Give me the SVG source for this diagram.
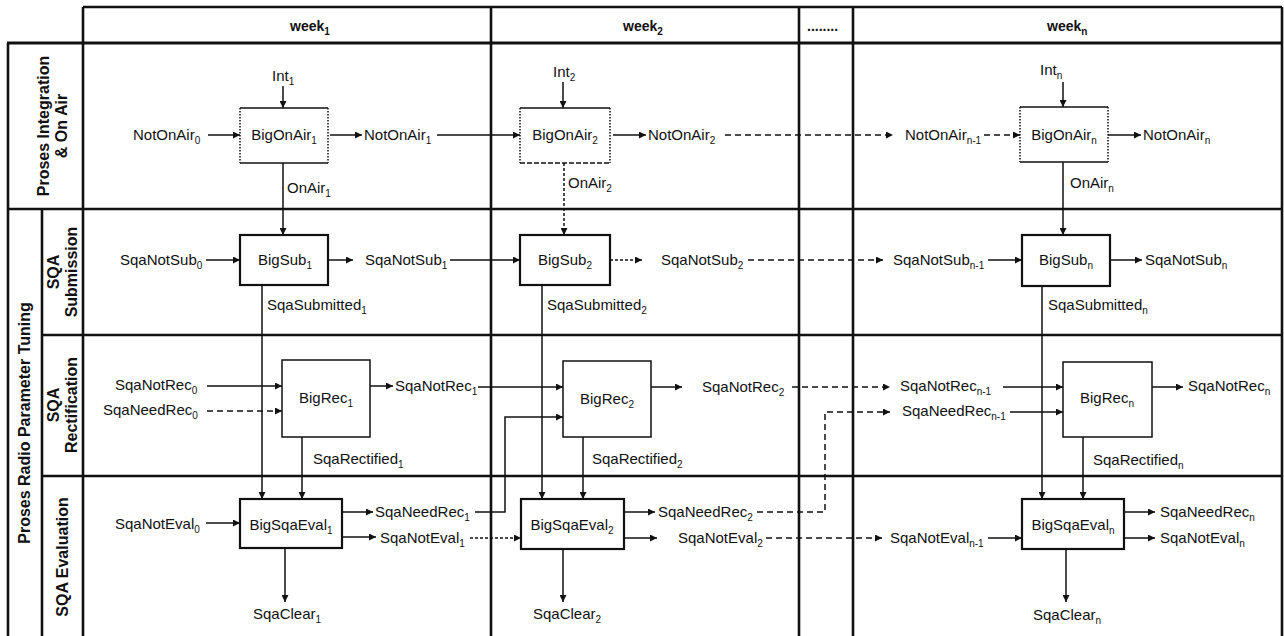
<svg xmlns="http://www.w3.org/2000/svg" width="1284" height="636" viewBox="0 0 1284 636">
<defs>
<marker id="ah" viewBox="0 0 10 10" refX="10" refY="5" markerWidth="9" markerHeight="7" markerUnits="userSpaceOnUse" orient="auto">
<path d="M0,0 L10,5 L0,10 z" fill="#111"/>
</marker>
</defs>
<style>
text{font-family:"Liberation Sans",Arial,sans-serif;font-size:15px;fill:#111}
.sub{font-size:10px}
.hd{font-weight:bold;font-size:14px}
.lb{font-weight:bold;font-size:16px}
.grid line{stroke:#111;stroke-width:2.6}
.c{fill:none;stroke:#111;stroke-width:1.5;marker-end:url(#ah)}
.d{stroke-dasharray:6,4}
.dt{stroke-dasharray:3,2}
.bx{fill:#fff;stroke:#111;stroke-width:1.5}
.bk{fill:#fff;stroke:#111;stroke-width:2.2}
.dside{stroke:#111;stroke-width:1.5;stroke-dasharray:1.5,1.5}
.ctr{text-anchor:middle}
</style>
<rect width="1284" height="636" fill="#fff"/>
<g id="grid" class="grid">
<line x1="83" y1="7" x2="1282" y2="7"/>
<line x1="7" y1="43" x2="1282" y2="43" style="stroke-width:3.2"/>
<line x1="8" y1="43" x2="8" y2="636"/>
<line x1="42" y1="209" x2="42" y2="636"/>
<line x1="83" y1="7" x2="83" y2="636"/>
<line x1="491" y1="7" x2="491" y2="636"/>
<line x1="799" y1="7" x2="799" y2="636"/>
<line x1="853" y1="7" x2="853" y2="636"/>
<line x1="1282" y1="7" x2="1282" y2="636"/>
<line x1="8" y1="209" x2="1282" y2="209"/>
<line x1="42" y1="335" x2="1282" y2="335"/>
<line x1="42" y1="476" x2="1282" y2="476"/>
</g>
<g id="headers">
<text class="hd" x="290" y="31">week<tspan class="sub" dy="4">1</tspan></text>
<text class="hd" x="623" y="31">week<tspan class="sub" dy="4">2</tspan></text>
<text class="hd" x="807" y="31">........</text>
<text class="hd" x="1047" y="31">week<tspan class="sub" dy="4">n</tspan></text>
<text class="lb ctr" transform="translate(49,126) rotate(-90)">Proses Integration</text>
<text class="lb ctr" transform="translate(67,126) rotate(-90)">&amp; On Air</text>
<text class="lb ctr" transform="translate(30,423) rotate(-90)">Proses Radio Parameter Tuning</text>
<text class="lb ctr" transform="translate(59,272) rotate(-90)">SQA</text>
<text class="lb ctr" transform="translate(77,272) rotate(-90)">Submission</text>
<text class="lb ctr" transform="translate(59,405) rotate(-90)">SQA</text>
<text class="lb ctr" transform="translate(77,405) rotate(-90)">Rectification</text>
<text class="lb ctr" transform="translate(68,557) rotate(-90)">SQA Evaluation</text>
</g>
<g id="connectors">
<path class="c" d="M283,86 V108"/>
<path class="c" d="M208,135 H240"/>
<path class="c" d="M330,135 H362"/>
<path class="c" d="M283,163 V235"/>
<path class="c" d="M563,82 V108"/>
<path class="c" d="M437,135 H520"/>
<path class="c" d="M613,135 H646"/>
<path class="c dt" d="M564,163 V235"/>
<path class="c d" d="M725,135 H893"/>
<path class="c d" d="M984,135 H1020"/>
<path class="c" d="M1063,82 V107"/>
<path class="c" d="M1108,135 H1141"/>
<path class="c" d="M1063,162 V235"/>
<path class="c" d="M206,260 H240"/>
<path class="c" d="M328,260 H353"/>
<path class="c" d="M450,260 H520"/>
<path class="c dt" d="M610,260 H642"/>
<path class="c d" d="M748,260 H883"/>
<path class="c" d="M988,260 H1022"/>
<path class="c" d="M1110,260 H1142"/>
<path class="c" d="M262,285 V499"/>
<path class="c" d="M542,285 V499"/>
<path class="c" d="M1042,286 V499"/>
<path class="c" d="M207,386 H282"/>
<path class="c d" d="M207,411 H282"/>
<path class="c" d="M370,386 H393"/>
<path class="c" d="M478,387 H563"/>
<path class="c" d="M475,512 H505 V417 H563"/>
<path class="c" d="M651,387 H682"/>
<path class="c d" d="M792,387 H890"/>
<path class="c d" d="M757,512 H825 V412 H890"/>
<path class="c" d="M1003,387 H1063"/>
<path class="c" d="M1010,412 H1063"/>
<path class="c" d="M1152,387 H1183"/>
<path class="c" d="M302,437 V499"/>
<path class="c" d="M583,437 V499"/>
<path class="c" d="M1083,437 V499"/>
<path class="c" d="M206,523 H240"/>
<path class="c" d="M342,512 H373"/>
<path class="c" d="M342,537 H376"/>
<path class="c dt" d="M470,538 H521"/>
<path class="c" d="M624,512 H655"/>
<path class="c" d="M624,538 H657"/>
<path class="c d" d="M766,538 H882"/>
<path class="c" d="M988,538 H1022"/>
<path class="c" d="M1124,512 H1155"/>
<path class="c" d="M1124,538 H1155"/>
<path class="c" d="M285,548 V602"/>
<path class="c" d="M563,549 V602"/>
<path class="c" d="M1066,549 V602"/>
</g>
<g id="BigOnAir1">
<rect x="240" y="108" width="88" height="55" fill="#fff"/>
<line x1="240" y1="108" x2="328" y2="108" stroke="#111" stroke-width="1.3"/>
<line x1="240" y1="163" x2="328" y2="163" stroke="#111" stroke-width="1.3"/>
<line class="dside" x1="240" y1="108" x2="240" y2="163"/>
<line class="dside" x1="328" y1="108" x2="328" y2="163"/>
<text class="ctr" x="284" y="140">BigOnAir<tspan class="sub" dy="4">1</tspan></text>
</g>
<g id="BigOnAir2">
<rect x="520" y="108" width="90" height="55" fill="#fff"/>
<line x1="520" y1="108" x2="610" y2="108" stroke="#111" stroke-width="1.3"/>
<line x1="520" y1="163" x2="610" y2="163" stroke="#111" stroke-width="1.3" stroke-dasharray="5,2"/>
<line class="dside" x1="520" y1="108" x2="520" y2="163"/>
<line class="dside" x1="610" y1="108" x2="610" y2="163"/>
<text class="ctr" x="565" y="140">BigOnAir<tspan class="sub" dy="4">2</tspan></text>
</g>
<g id="BigOnAirn">
<rect x="1020" y="107" width="88" height="55" fill="#fff"/>
<line x1="1020" y1="107" x2="1108" y2="107" stroke="#111" stroke-width="1.3"/>
<line x1="1020" y1="162" x2="1108" y2="162" stroke="#111" stroke-width="1.3"/>
<line class="dside" x1="1020" y1="107" x2="1020" y2="162"/>
<line class="dside" x1="1108" y1="107" x2="1108" y2="162"/>
<text class="ctr" x="1064" y="140">BigOnAir<tspan class="sub" dy="4">n</tspan></text>
</g>
<g id="BigSub1"><rect class="bk" x="240" y="235" width="88" height="50"/><text class="ctr" x="285" y="265">BigSub<tspan class="sub" dy="4">1</tspan></text></g>
<g id="BigSub2"><rect class="bk" x="520" y="235" width="90" height="50"/><text class="ctr" x="565" y="265">BigSub<tspan class="sub" dy="4">2</tspan></text></g>
<g id="BigSubn"><rect class="bk" x="1022" y="235" width="88" height="51"/><text class="ctr" x="1066" y="265">BigSub<tspan class="sub" dy="4">n</tspan></text></g>
<g id="BigRec1"><rect class="bx" x="282" y="360" width="88" height="77"/><text class="ctr" x="326" y="403">BigRec<tspan class="sub" dy="4">1</tspan></text></g>
<g id="BigRec2"><rect class="bx" x="563" y="361" width="88" height="76"/><text class="ctr" x="607" y="404">BigRec<tspan class="sub" dy="4">2</tspan></text></g>
<g id="BigRecn"><rect class="bx" x="1063" y="362" width="89" height="75"/><text class="ctr" x="1107" y="403">BigRec<tspan class="sub" dy="4">n</tspan></text></g>
<g id="BigSqaEval1"><rect class="bk" x="240" y="499" width="102" height="49"/><text class="ctr" x="291" y="530">BigSqaEval<tspan class="sub" dy="4">1</tspan></text></g>
<g id="BigSqaEval2"><rect class="bk" x="521" y="499" width="103" height="50"/><text class="ctr" x="572" y="530">BigSqaEval<tspan class="sub" dy="4">2</tspan></text></g>
<g id="BigSqaEvaln"><rect class="bk" x="1022" y="499" width="102" height="50"/><text class="ctr" x="1073" y="530">BigSqaEval<tspan class="sub" dy="4">n</tspan></text></g>
<g id="labels">
<text x="272" y="81">Int<tspan class="sub" dy="4">1</tspan></text>
<text x="553" y="77">Int<tspan class="sub" dy="4">2</tspan></text>
<text x="1040" y="75">Int<tspan class="sub" dy="4">n</tspan></text>
<text x="133" y="140">NotOnAir<tspan class="sub" dy="4">0</tspan></text>
<text x="364" y="140">NotOnAir<tspan class="sub" dy="4">1</tspan></text>
<text x="648" y="140">NotOnAir<tspan class="sub" dy="4">2</tspan></text>
<text x="905" y="140">NotOnAir<tspan class="sub" dy="4">n-1</tspan></text>
<text x="1143" y="140">NotOnAir<tspan class="sub" dy="4">n</tspan></text>
<text x="287" y="193">OnAir<tspan class="sub" dy="4">1</tspan></text>
<text x="568" y="188">OnAir<tspan class="sub" dy="4">2</tspan></text>
<text x="1070" y="188">OnAir<tspan class="sub" dy="4">n</tspan></text>
<text x="120" y="265">SqaNotSub<tspan class="sub" dy="4">0</tspan></text>
<text x="365" y="265">SqaNotSub<tspan class="sub" dy="4">1</tspan></text>
<text x="661" y="265">SqaNotSub<tspan class="sub" dy="4">2</tspan></text>
<text x="893" y="265">SqaNotSub<tspan class="sub" dy="4">n-1</tspan></text>
<text x="1145" y="265">SqaNotSub<tspan class="sub" dy="4">n</tspan></text>
<text x="267" y="310">SqaSubmitted<tspan class="sub" dy="4">1</tspan></text>
<text x="547" y="310">SqaSubmitted<tspan class="sub" dy="4">2</tspan></text>
<text x="1048" y="310">SqaSubmitted<tspan class="sub" dy="4">n</tspan></text>
<text x="115" y="390">SqaNotRec<tspan class="sub" dy="4">0</tspan></text>
<text x="103" y="415">SqaNeedRec<tspan class="sub" dy="4">0</tspan></text>
<text x="395" y="391">SqaNotRec<tspan class="sub" dy="4">1</tspan></text>
<text x="702" y="392">SqaNotRec<tspan class="sub" dy="4">2</tspan></text>
<text x="900" y="391">SqaNotRec<tspan class="sub" dy="4">n-1</tspan></text>
<text x="902" y="416">SqaNeedRec<tspan class="sub" dy="4">n-1</tspan></text>
<text x="1188" y="391">SqaNotRec<tspan class="sub" dy="4">n</tspan></text>
<text x="313" y="464">SqaRectified<tspan class="sub" dy="4">1</tspan></text>
<text x="592" y="464">SqaRectified<tspan class="sub" dy="4">2</tspan></text>
<text x="1093" y="465">SqaRectified<tspan class="sub" dy="4">n</tspan></text>
<text x="115" y="529">SqaNotEval<tspan class="sub" dy="4">0</tspan></text>
<text x="375" y="517">SqaNeedRec<tspan class="sub" dy="4">1</tspan></text>
<text x="380" y="543">SqaNotEval<tspan class="sub" dy="4">1</tspan></text>
<text x="658" y="517">SqaNeedRec<tspan class="sub" dy="4">2</tspan></text>
<text x="678" y="543">SqaNotEval<tspan class="sub" dy="4">2</tspan></text>
<text x="890" y="543">SqaNotEval<tspan class="sub" dy="4">n-1</tspan></text>
<text x="1160" y="517">SqaNeedRec<tspan class="sub" dy="4">n</tspan></text>
<text x="1160" y="543">SqaNotEval<tspan class="sub" dy="4">n</tspan></text>
<text class="ctr" x="287" y="619">SqaClear<tspan class="sub" dy="4">1</tspan></text>
<text class="ctr" x="567" y="619">SqaClear<tspan class="sub" dy="4">2</tspan></text>
<text class="ctr" x="1067" y="620">SqaClear<tspan class="sub" dy="4">n</tspan></text>
</g>
</svg>
